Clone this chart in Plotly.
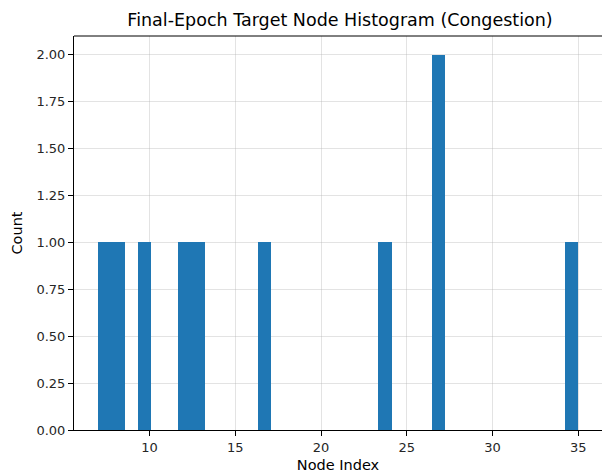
import numpy as np
import plotly.graph_objects as go

node_indices = [7, 8, 10, 12, 13, 17, 24, 27, 27, 35]
bin_start = 7
bin_end = 35
n_bins = 36
y_ticks = [0, 0.25, 0.5, 0.75, 1.0, 1.25, 1.5, 1.75, 2.0]
x_ticks = [10, 15, 20, 25, 30, 35]

counts, edges = np.histogram(node_indices, bins=n_bins, range=(bin_start, bin_end))
centers = (edges[:-1] + edges[1:]) / 2
widths = np.diff(edges)

fig = go.Figure(go.Bar(
    x=centers, y=counts, width=widths,
    marker=dict(color="#1f77b4", line=dict(width=0)),
))

font = "DejaVu Sans, sans-serif"
fig.update_layout(
    width=602, height=475,
    margin=dict(l=74, r=0, t=36, b=45),
    paper_bgcolor="white", plot_bgcolor="white",
    bargap=0,
    showlegend=False,
    font=dict(family=font, size=13, color="#262626"),
    title=dict(text="Final-Epoch Target Node Histogram (Congestion)",
               x=340 / 602, xanchor="center", y=1 - 20 / 475, yanchor="middle",
               font=dict(size=17.5, color="black")),
)
fig.update_xaxes(
    range=[5.6, 36.38], tickvals=x_ticks, ticks="outside", ticklen=5, tickcolor="black",
    showline=True, linecolor="black", linewidth=1, mirror=False,
    showgrid=True, gridcolor="rgba(176,176,176,0.35)", gridwidth=1,
    zeroline=False, layer="above traces",
    title=dict(text="Node Index", font=dict(size=14.5, color="black"), standoff=6),
    tickfont=dict(size=13, color="#262626"),
)
fig.update_yaxes(
    range=[0, 2.1], tickvals=y_ticks, tickformat=".2f", ticks="outside", ticklen=5, tickcolor="black",
    showline=True, linecolor="black", linewidth=1,
    showgrid=True, gridcolor="rgba(176,176,176,0.35)", gridwidth=1,
    zeroline=False, layer="above traces",
    title=dict(text="Count", font=dict(size=14.5, color="black"), standoff=10),
    tickfont=dict(size=13, color="#262626"),
)
# top spine
fig.add_shape(type="line", xref="paper", yref="paper", x0=0, x1=1, y0=1, y1=1,
              line=dict(color="black", width=1))

fig.write_html("out.html")
